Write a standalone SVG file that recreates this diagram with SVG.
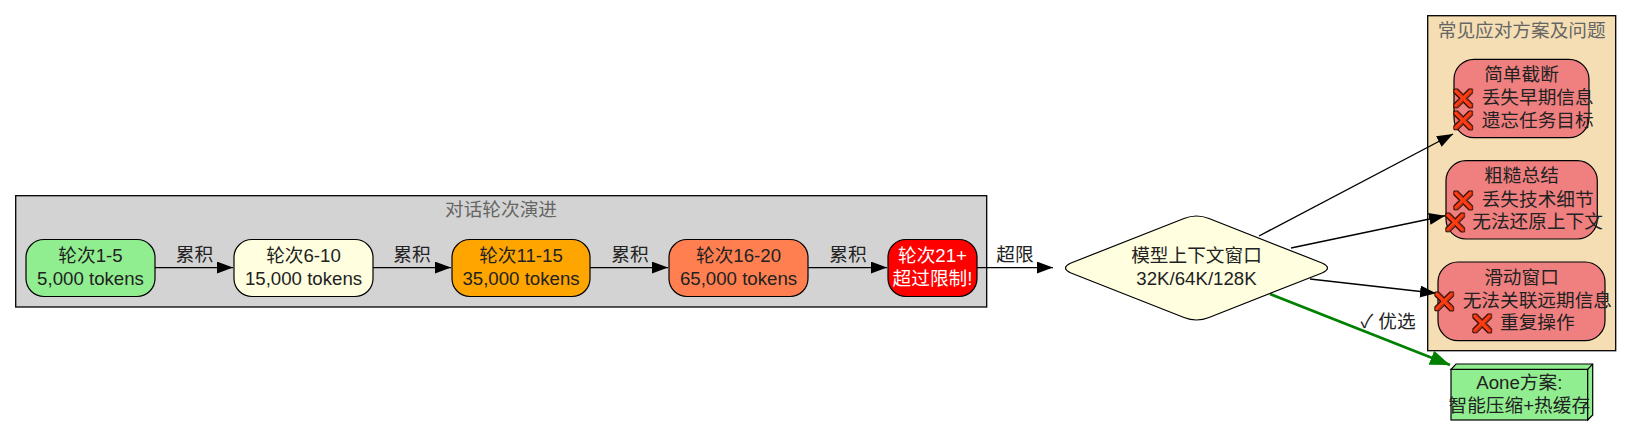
<svg xmlns="http://www.w3.org/2000/svg" width="1632" height="425" viewBox="0 0 1632 425">
<defs>
<marker id="a" markerUnits="userSpaceOnUse" markerWidth="17" markerHeight="13" refX="16" refY="6" orient="auto"><path d="M0,0L16,6L0,12Z" fill="#000"/></marker>
<marker id="g" markerUnits="userSpaceOnUse" markerWidth="22" markerHeight="16" refX="20" refY="7.500" orient="auto"><path d="M0,0L20,7.500L0,15Z" fill="#008000"/></marker>
<filter id="cross" x="-20%" y="-20%" width="140%" height="140%" color-interpolation-filters="sRGB">
<feMorphology in="SourceAlpha" operator="dilate" radius="0.900" result="d"/>
<feFlood flood-color="#3a1008"/><feComposite in2="d" operator="in" result="o"/>
<feFlood flood-color="#ff3d12"/><feComposite in2="SourceAlpha" operator="in" result="f"/>
<feMerge><feMergeNode in="o"/><feMergeNode in="f"/></feMerge>
</filter>
</defs>
<style>
text{font-family:"Liberation Sans","Noto Sans CJK SC",sans-serif;font-size:18.67px;fill:#222;text-anchor:middle}
.t{font-family:"Liberation Serif","Noto Sans CJK SC",serif;fill:#666}
.l{text-anchor:start}
.x{font-size:16.5px;filter:url(#cross)}
.n{stroke:#000;stroke-width:1.2}
.c{fill:none;stroke:#000;stroke-width:1.4;marker-end:url(#a)}
</style>
<g id="cluster-rounds"><rect x="15.700" y="195.700" width="971" height="111.300" fill="#d3d3d3" stroke="#000" stroke-width="1.300"/><text class="t" x="501" y="216">对话轮次演进</text></g>
<g id="cluster-solutions"><rect x="1427.700" y="15.700" width="188" height="335" fill="#f5deb3" stroke="#000" stroke-width="1.300"/><text class="t" x="1521.700" y="37">常见应对方案及问题</text></g>
<g id="connectors">
<path class="c" d="M155,267.600H233"/>
<path class="c" d="M373,267.600H451"/>
<path class="c" d="M590,267.600H668"/>
<path class="c" d="M808,267.600H887"/>
<path class="c" d="M977,267.600H1053"/>
<path class="c" d="M1259,236L1453,134"/>
<path class="c" d="M1291,248L1445,215.700"/>
<path class="c" d="M1310,279L1436,293.300"/>
<path d="M1270,294L1450,365" fill="none" stroke="#008000" stroke-width="2.700" marker-end="url(#g)"/>
<text x="194.500" y="261">累积</text><text x="412" y="261">累积</text><text x="630" y="261">累积</text><text x="848" y="261">累积</text><text x="1015" y="261">超限</text>
<text x="1388" y="328">✓ 优选</text>
</g>
<g id="n1"><rect class="n" x="26" y="239.500" width="129" height="57" rx="18" fill="#90ee90"/><text x="90.500" y="262">轮次1-5</text><text x="90.500" y="284.500">5,000 tokens</text></g>
<g id="n2"><rect class="n" x="234" y="239.500" width="139" height="57" rx="18" fill="#ffffe0"/><text x="303.500" y="262">轮次6-10</text><text x="303.500" y="284.500">15,000 tokens</text></g>
<g id="n3"><rect class="n" x="452" y="239.500" width="138" height="57" rx="18" fill="#ffa500"/><text x="521" y="262">轮次11-15</text><text x="521" y="284.500">35,000 tokens</text></g>
<g id="n4"><rect class="n" x="669" y="239.500" width="139" height="57" rx="18" fill="#ff7f50"/><text x="738.500" y="262">轮次16-20</text><text x="738.500" y="284.500">65,000 tokens</text></g>
<g id="n5"><rect class="n" x="888" y="239.500" width="89" height="57" rx="18" fill="#f00"/><text x="932.500" y="262" style="fill:#fff">轮次21+</text><text x="932.500" y="284.500" style="fill:#fff">超过限制!</text></g>
<g id="limit"><path class="n" d="M1184,218.500Q1196.500,213.500 1209,218.500L1322,263Q1333,268 1322,273L1209,317.500Q1196.500,322.500 1184,317.500L1071,273Q1060,268 1071,263Z" fill="#ffffe0"/><text x="1196.500" y="262">模型上下文窗口</text><text x="1196.500" y="284.500">32K/64K/128K</text></g>
<g id="s1"><rect class="n" x="1454" y="59.300" width="135" height="78.400" rx="20" fill="#f08080"/><text x="1521.500" y="81">简单截断</text><text class="x" x="1463.500" y="104">❌</text><text class="l" x="1481.700" y="104">丢失早期信息</text><text class="x" x="1463.500" y="126">❌</text><text class="l" x="1481.700" y="126.500">遗忘任务目标</text></g>
<g id="s2"><rect class="n" x="1446" y="160.700" width="151.300" height="78.300" rx="20" fill="#f08080"/><text x="1521.500" y="182">粗糙总结</text><text class="x" x="1463" y="206">❌</text><text class="l" x="1481.700" y="205.500">丢失技术细节</text><text class="x" x="1455" y="228">❌</text><text class="l" x="1472.300" y="228">无法还原上下文</text></g>
<g id="s3"><rect class="n" x="1438" y="262" width="167" height="78.700" rx="20" fill="#f08080"/><text x="1521.500" y="284">滑动窗口</text><text class="x" x="1444.700" y="307">❌</text><text class="l" x="1462.700" y="307">无法关联远期信息</text><text class="x" x="1482" y="328.500">❌</text><text class="l" x="1500" y="329">重复操作</text></g>
<g id="aone"><rect class="n" x="1451" y="369.300" width="136.700" height="50.700" fill="#90ee90"/><path class="n" d="M1451,369.300L1456,364H1592.700V415L1587.700,420V369.300Z" fill="#90ee90"/><path class="n" d="M1587.700,369.300L1592.700,364" fill="none"/><text x="1519.300" y="389">Aone方案:</text><text x="1519.300" y="412">智能压缩+热缓存</text></g>
</svg>
